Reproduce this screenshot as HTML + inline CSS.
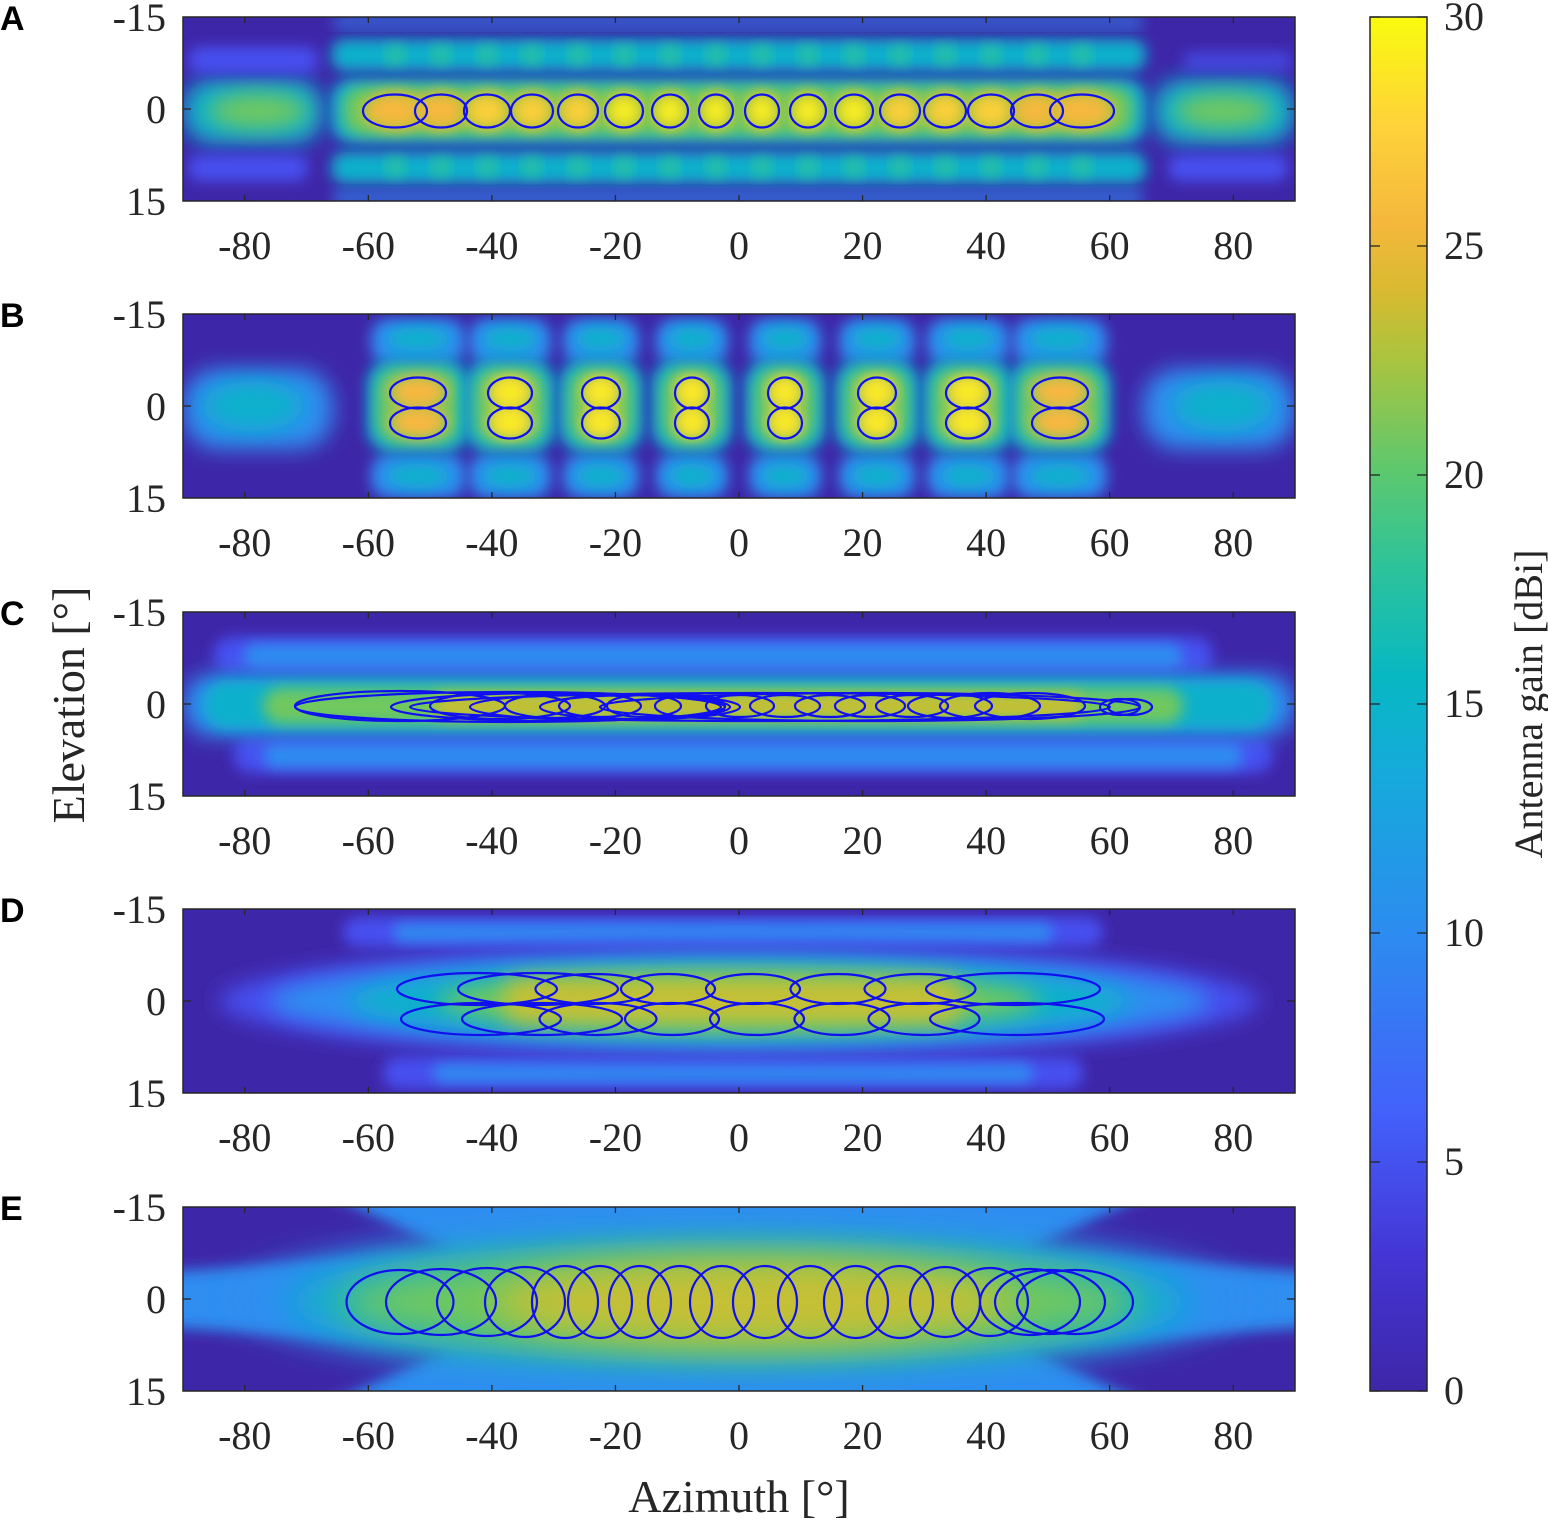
<!DOCTYPE html>
<html><head><meta charset="utf-8"><style>
html,body{margin:0;padding:0;background:#fff;}
svg{display:block;}
text{font-family:"Liberation Serif","Times New Roman",serif;fill:#262626;}
text.lab{font-family:"Liberation Sans",sans-serif;fill:#000;font-weight:bold;}
</style></head><body>
<svg id="s" width="1548" height="1520" xmlns="http://www.w3.org/2000/svg">
<defs>
<filter id="b6" x="-20%" y="-50%" width="140%" height="200%"><feGaussianBlur stdDeviation="7"/></filter>
<filter id="b10" x="-20%" y="-50%" width="140%" height="200%"><feGaussianBlur stdDeviation="11"/></filter>
<filter id="b18" x="-30%" y="-80%" width="160%" height="260%"><feGaussianBlur stdDeviation="18"/></filter>
<clipPath id="cp"><rect x="0" y="0" width="1112" height="184"/></clipPath>
<linearGradient id="cb" x1="0" y1="1" x2="0" y2="0">
<stop offset="0" stop-color="#3e26a8"/>
<stop offset="0.1" stop-color="#4436d6"/>
<stop offset="0.2" stop-color="#4360fa"/>
<stop offset="0.33" stop-color="#2d8bf0"/>
<stop offset="0.45" stop-color="#15aadb"/>
<stop offset="0.52" stop-color="#07b8c2"/>
<stop offset="0.6" stop-color="#2dc39a"/>
<stop offset="0.67" stop-color="#5dc86e"/>
<stop offset="0.75" stop-color="#a9c43f"/>
<stop offset="0.8" stop-color="#d8ba30"/>
<stop offset="0.85" stop-color="#f4b83c"/>
<stop offset="0.92" stop-color="#fed23a"/>
<stop offset="1" stop-color="#f9fb0e"/>
</linearGradient>
</defs>
<g id="root"></g>
</svg>
<script>
var NS="http://www.w3.org/2000/svg";
var root=document.getElementById('root');
function el(tag,attrs,parent,txt){var e=document.createElementNS(NS,tag);for(var k in attrs)e.setAttribute(k,attrs[k]);if(txt!==undefined)e.textContent=txt;(parent||root).appendChild(e);return e;}
var tops=[17,314,612,909,1207];var L=183,W=1112,H=184;
function X(az){return (az+90)*W/180;}
var C={bg:"#3e26a8",b1:"#4650f0",b2:"#2f8ef0",t:"#10b0cc",tg:"#2ec29a",g:"#70c85e",o:"#c6c034",y:"#fbd03a",yy:"#f6f020",or:"#f8b840"};
function panel(i,draw,ells){
  var g=el('g',{transform:'translate('+L+','+tops[i]+')'});
  var c=el('g',{'clip-path':'url(#cp)'},g);
  el('rect',{x:0,y:0,width:W,height:H,fill:C.bg},c);
  draw(c);
  ells.forEach(function(e){el('ellipse',{cx:e[0]-L,cy:e[1]-tops[i],rx:e[2]/2,ry:e[3]/2,fill:'none',stroke:'#1010ee','stroke-width':2.2},c);});
  el('rect',{x:0,y:0,width:W,height:H,fill:'none',stroke:'#262626','stroke-width':1.5},g);
  for(var a=-80;a<=80;a+=20){var x=X(a);el('line',{x1:x,y1:0,x2:x,y2:6,stroke:'#262626','stroke-width':1.3},g);el('line',{x1:x,y1:H,x2:x,y2:H-6,stroke:'#262626','stroke-width':1.3},g);
    el('text',{x:x,y:H+58,'font-size':40,'text-anchor':'middle'},g,String(a));}
  el('line',{x1:0,y1:H/2,x2:8,y2:H/2,stroke:'#262626','stroke-width':1.3},g);el('line',{x1:W,y1:H/2,x2:W-8,y2:H/2,stroke:'#262626','stroke-width':1.3},g);
  el('text',{x:-17,y:14,'font-size':40,'text-anchor':'end'},g,'-15');
  el('text',{x:-17,y:H/2+14,'font-size':40,'text-anchor':'end'},g,'0');
  el('text',{x:-17,y:H+14,'font-size':40,'text-anchor':'end'},g,'15');
  el('text',{x:-183,y:13,'font-size':34,'class':'lab'},g,'ABCDE'[i]);
}
function R(p,x,y,w,h,f,flt,rx,op){return el('rect',{x:x,y:y,width:w,height:h,rx:rx||0,fill:f,filter:flt?'url(#'+flt+')':'',opacity:op||1},p);}
function E(p,cx,cy,rx,ry,f,flt,op){return el('ellipse',{cx:cx,cy:cy,rx:rx,ry:ry,fill:f,filter:flt?'url(#'+flt+')':'',opacity:op||1},p);}

var aC=[395,441,487,532,578,624,670,716,762,808,854,900,945,991,1037,1082];
var aW=[64,52,46,42,40,38,36,34,34,36,38,40,42,46,52,64];
panel(0,function(c){
  R(c,0,62,140,65,C.t,'b10',30);E(c,75,94,50,18,C.g,'b10');
  R(c,970,62,142,65,C.t,'b10',30);E(c,1040,94,50,18,C.g,'b10');
  R(c,5,30,130,26,C.b1,'b6',12);R(c,1000,35,110,18,C.b1,'b6',9,0.8);
  R(c,5,138,120,26,C.b1,'b6',12);R(c,985,138,120,26,C.b1,'b6',12);
  R(c,148,22,815,32,C.t,'b6',14);R(c,148,135,815,32,C.t,'b6',14);
  R(c,150,0,810,10,C.b2,'b6',4,0.8);R(c,150,175,810,12,C.b2,'b6',4,0.8);
  R(c,148,62,815,64,C.t,'b6',20);R(c,160,70,790,48,C.g,'b6',18);
  aC.forEach(function(x,k){var lx=x-L;E(c,lx,38,10,9,C.tg,'b6');E(c,lx,150,10,9,C.tg,'b6');
    E(c,lx,94,aW[k]/2,20,C.o,'b6');E(c,lx,94,aW[k]/2-4,14,(k<2||k>13)?C.or:(k<5||k>10?C.y:C.yy),'b6');});
},aC.map(function(x,k){return [x,111,aW[k],33];}));

var bC=[418,510,601,692,785,877,968,1060];var bW=[56,44,38,34,34,38,44,56];
panel(1,function(c){
  R(c,0,55,150,80,C.b2,'b10',35);E(c,70,92,50,25,C.t,'b10');
  R(c,960,55,152,80,C.b2,'b10',35);E(c,1040,92,50,25,C.t,'b10');
  bC.forEach(function(x,k){var lx=x-L;var w=bW[k]+38;
    R(c,lx-w/2,5,w,45,C.b2,'b6',18);E(c,lx,25,w/3,12,C.t,'b6');
    R(c,lx-w/2,140,w,44,C.b2,'b6',18);E(c,lx,162,w/3,12,C.t,'b6');
    R(c,lx-w/2-4,45,w+8,94,C.t,'b6',25);R(c,lx-w/2+6,55,w-12,74,C.g,'b6',20);
    E(c,lx,78,bW[k]/2,16,(k==0||k==7)?C.or:C.y,'b6');E(c,lx,108,bW[k]/2,16,(k==0||k==7)?C.or:C.y,'b6');
    if(k>0&&k<7){E(c,lx,78,bW[k]/3,11,C.yy,'b6');E(c,lx,108,bW[k]/3,11,C.yy,'b6');}
  });
},[].concat.apply([],bC.map(function(x,k){return [[x,393,bW[k],31],[x,423,bW[k],31]];})));

var cE=[[510,707,430,30],[556,707,330,28],[600,707,260,26],[640,707,200,24],[500,706,140,26],[555,706,100,24],[600,706,82,22],[644,706,74,22],[690,706,70,22],[740,706,68,22],[785,706,70,22],[830,706,70,22],[870,706,70,22],[912,706,72,22],[950,706,84,24],[990,706,100,26],[1030,706,110,26],[760,707,700,28],[870,707,540,28],[1120,707,40,16],[1130,707,44,16]];
panel(2,function(c){
  R(c,30,25,1000,36,C.b1,'b6',18);R(c,60,32,940,24,C.b2,'b6',12);
  R(c,50,125,1040,36,C.b1,'b6',18);R(c,80,132,980,24,C.b2,'b6',12);
  R(c,0,62,1112,62,C.b2,'b10',28);R(c,20,68,1070,50,C.t,'b6',24);
  R(c,80,76,920,36,C.g,'b6',18);R(c,250,82,650,24,C.o,'b6',12);
},cE.concat([[400,706,210,30]]));

var dT=[[477,989,160,32],[538,989,160,32],[594,989,117,30],[668,989,94,30],[753,989,94,30],[838,989,95,30],[920,989,111,30],[1013,989,174,32]];
var dB=dT.map(function(e){return [e[0]+4,1019,e[2],32];});
panel(3,function(c){
  R(c,160,8,760,30,C.b1,'b6',15);R(c,210,15,660,18,C.b2,'b6',9);
  R(c,200,148,700,32,C.b1,'b6',15);R(c,250,155,600,18,C.b2,'b6',9);
  E(c,556,92,520,55,C.b1,'b10');E(c,556,92,470,45,C.b2,'b10');
  E(c,556,92,390,38,C.t,'b10');E(c,556,92,300,30,C.g,'b10');R(c,320,70,460,44,C.o,'b10',20);
},dT.concat(dB));

var eS=[[400,107,64],[441,110,66],[487,100,68],[525,80,70],[565,66,72],[600,64,72],[640,62,72],[680,64,72],[722,64,72],[765,64,72],[810,64,72],[856,64,72],[900,66,72],[945,70,70],[990,76,68],[1030,100,66],[1050,110,64],[1075,116,64]];
panel(4,function(c){
  R(c,0,0,1112,184,C.b2,'',0);
  el('polygon',{points:'-20,-20 130,-20 270,45 -20,65',fill:C.bg,filter:'url(#b6)'},c);
  el('polygon',{points:'-20,204 130,204 270,140 -20,120',fill:C.bg,filter:'url(#b6)'},c);
  el('polygon',{points:'1132,-20 980,-20 840,45 1132,65',fill:C.bg,filter:'url(#b6)'},c);
  el('polygon',{points:'1132,204 980,204 840,140 1132,120',fill:C.bg,filter:'url(#b6)'},c);
  E(c,556,92,500,70,C.b2,'b18');E(c,556,95,450,62,C.t,'b18');
  E(c,556,95,400,50,C.g,'b18');E(c,570,95,260,40,C.o,'b18');
},eS.map(function(e){return [e[0],1302,e[1],e[2]];}));

el('rect',{x:1370,y:17,width:57,height:1374,fill:'url(#cb)',stroke:'#262626','stroke-width':1.5});
for(var v=0;v<=30;v+=5){var y=1391-v*1374/30;
  el('line',{x1:1417,y1:y,x2:1427,y2:y,stroke:'#262626','stroke-width':1.3});
  el('line',{x1:1370,y1:y,x2:1380,y2:y,stroke:'#262626','stroke-width':1.3});
  el('text',{x:1444,y:y+13,'font-size':40},null,String(v));}
el('text',{x:0,y:0,'font-size':40,'text-anchor':'middle',transform:'translate(1542,704) rotate(-90)'},null,'Antenna gain [dBi]');
el('text',{x:0,y:0,'font-size':46,'text-anchor':'middle',transform:'translate(84,705) rotate(-90)'},null,'Elevation [°]');
el('text',{x:739,y:1512,'font-size':46,'text-anchor':'middle'},null,'Azimuth [°]');
</script>
</body></html>
